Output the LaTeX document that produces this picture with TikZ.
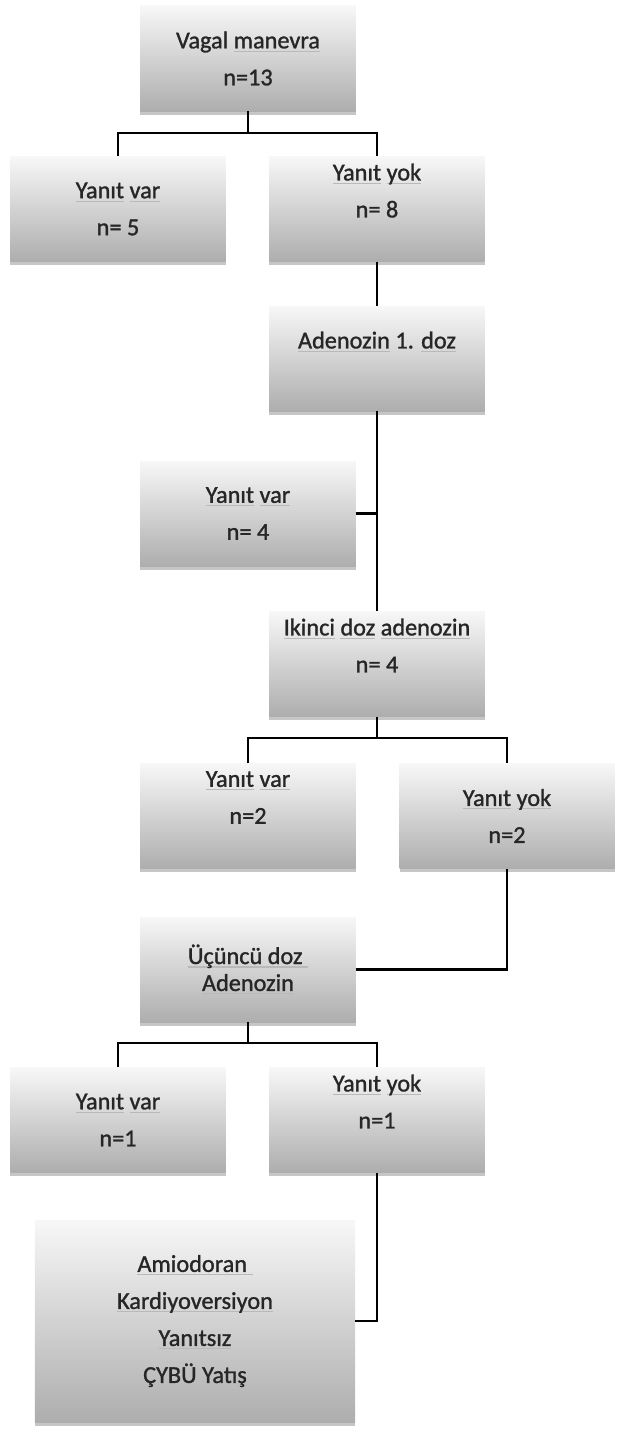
\documentclass[tikz,border=0pt]{standalone}
\usepackage{fontspec}
\setmainfont{Carlito}[UprightFeatures={FakeBold=1.2}]
\usetikzlibrary{shadows}
\newsavebox\sqbox
\newcommand{\sq}[1]{\sbox\sqbox{#1}\rlap{\textcolor{gray!55}{\rule[-3pt]{\wd\sqbox}{0.9pt}}}\usebox\sqbox}
\tikzset{
  stepbox/.style={rectangle, align=center, inner sep=0pt,
    minimum width=6.45cm, minimum height=3.15cm,
    top color=gray!6, bottom color=gray!64,
    drop shadow={shadow xshift=0pt, shadow yshift=-3pt, opacity=0.45},
    text=black!85, font=\fontsize{20.7pt}{31.6pt}\selectfont},
  link/.style={line width=2.2pt, black}
}
\begin{document}
\begin{tikzpicture}[x=0.03cm, y=-0.03cm]
      \useasboundingbox (0,0) rectangle (628,1431);
      \node[stepbox] (vagal) at (248,58.5) {Vagal \sq{manevra}\\n=13};
      \node[stepbox] (var1) at (118,209) {\sq{Yanıt} \sq{var}\\n= 5};
      \node[stepbox] (yok1) at (377,209) {\sq{Yanıt} \sq{yok}\\n= 8\\ \mbox{}};
      \node[stepbox] (doz1) at (377,358.5) {\sq{Adenozin} 1. \sq{doz}\\ \mbox{}};
      \node[stepbox] (var2) at (248,513.5) {\sq{Yanıt} \sq{var}\\n= 4};
      \node[stepbox] (doz2) at (377,664) {\sq{Ikinci} \sq{doz} \sq{adenozin}\\n= 4\\ \mbox{}};
      \node[stepbox] (var3) at (248,816) {\sq{Yanıt} \sq{var}\\n=2\\ \mbox{}};
      \node[stepbox] (yok3) at (507,816) {\sq{Yanıt} \sq{yok}\\n=2};
      \node[stepbox] (doz3) at (248,969.5) {\sq{Üçüncü doz\ }\\[-8.6pt]\sq{Adenozin}};
      \node[stepbox] (var4) at (118,1120) {\sq{Yanıt} \sq{var}\\n=1};
      \node[stepbox] (yok4) at (377,1120) {\sq{Yanıt} \sq{yok}\\n=1\\ \mbox{}};
      \node[stepbox, minimum width=9.6cm, minimum height=6.06cm] (son) at (195,1321)
        {\sq{Amiodoran\ }\\\sq{Kardiyoversiyon}\\\sq{Yanıtsız}\\ÇYBÜ \sq{Yatış}};
      \coordinate (f1) at (248,133);
      \coordinate (f2) at (377,738);
      \coordinate (f3) at (248,1043);
      \begin{scope}[link]
        \draw (vagal.south) -- (f1);
        \draw (var1.north) |- (f1) -| (yok1.north);
        \draw (yok1.south) -- (doz1.north);
        \draw (doz1.south) -- (doz2.north);
        \draw (var2.east) -- (var2.east -| doz1.south);
        \draw (doz2.south) -- (f2);
        \draw (var3.north) |- (f2) -| (yok3.north);
        \draw (yok3.south) |- (doz3.east);
        \draw (doz3.south) -- (f3);
        \draw (var4.north) |- (f3) -| (yok4.north);
        \draw (yok4.south) |- (son.east);
      \end{scope}
    \end{tikzpicture}
\end{document}
